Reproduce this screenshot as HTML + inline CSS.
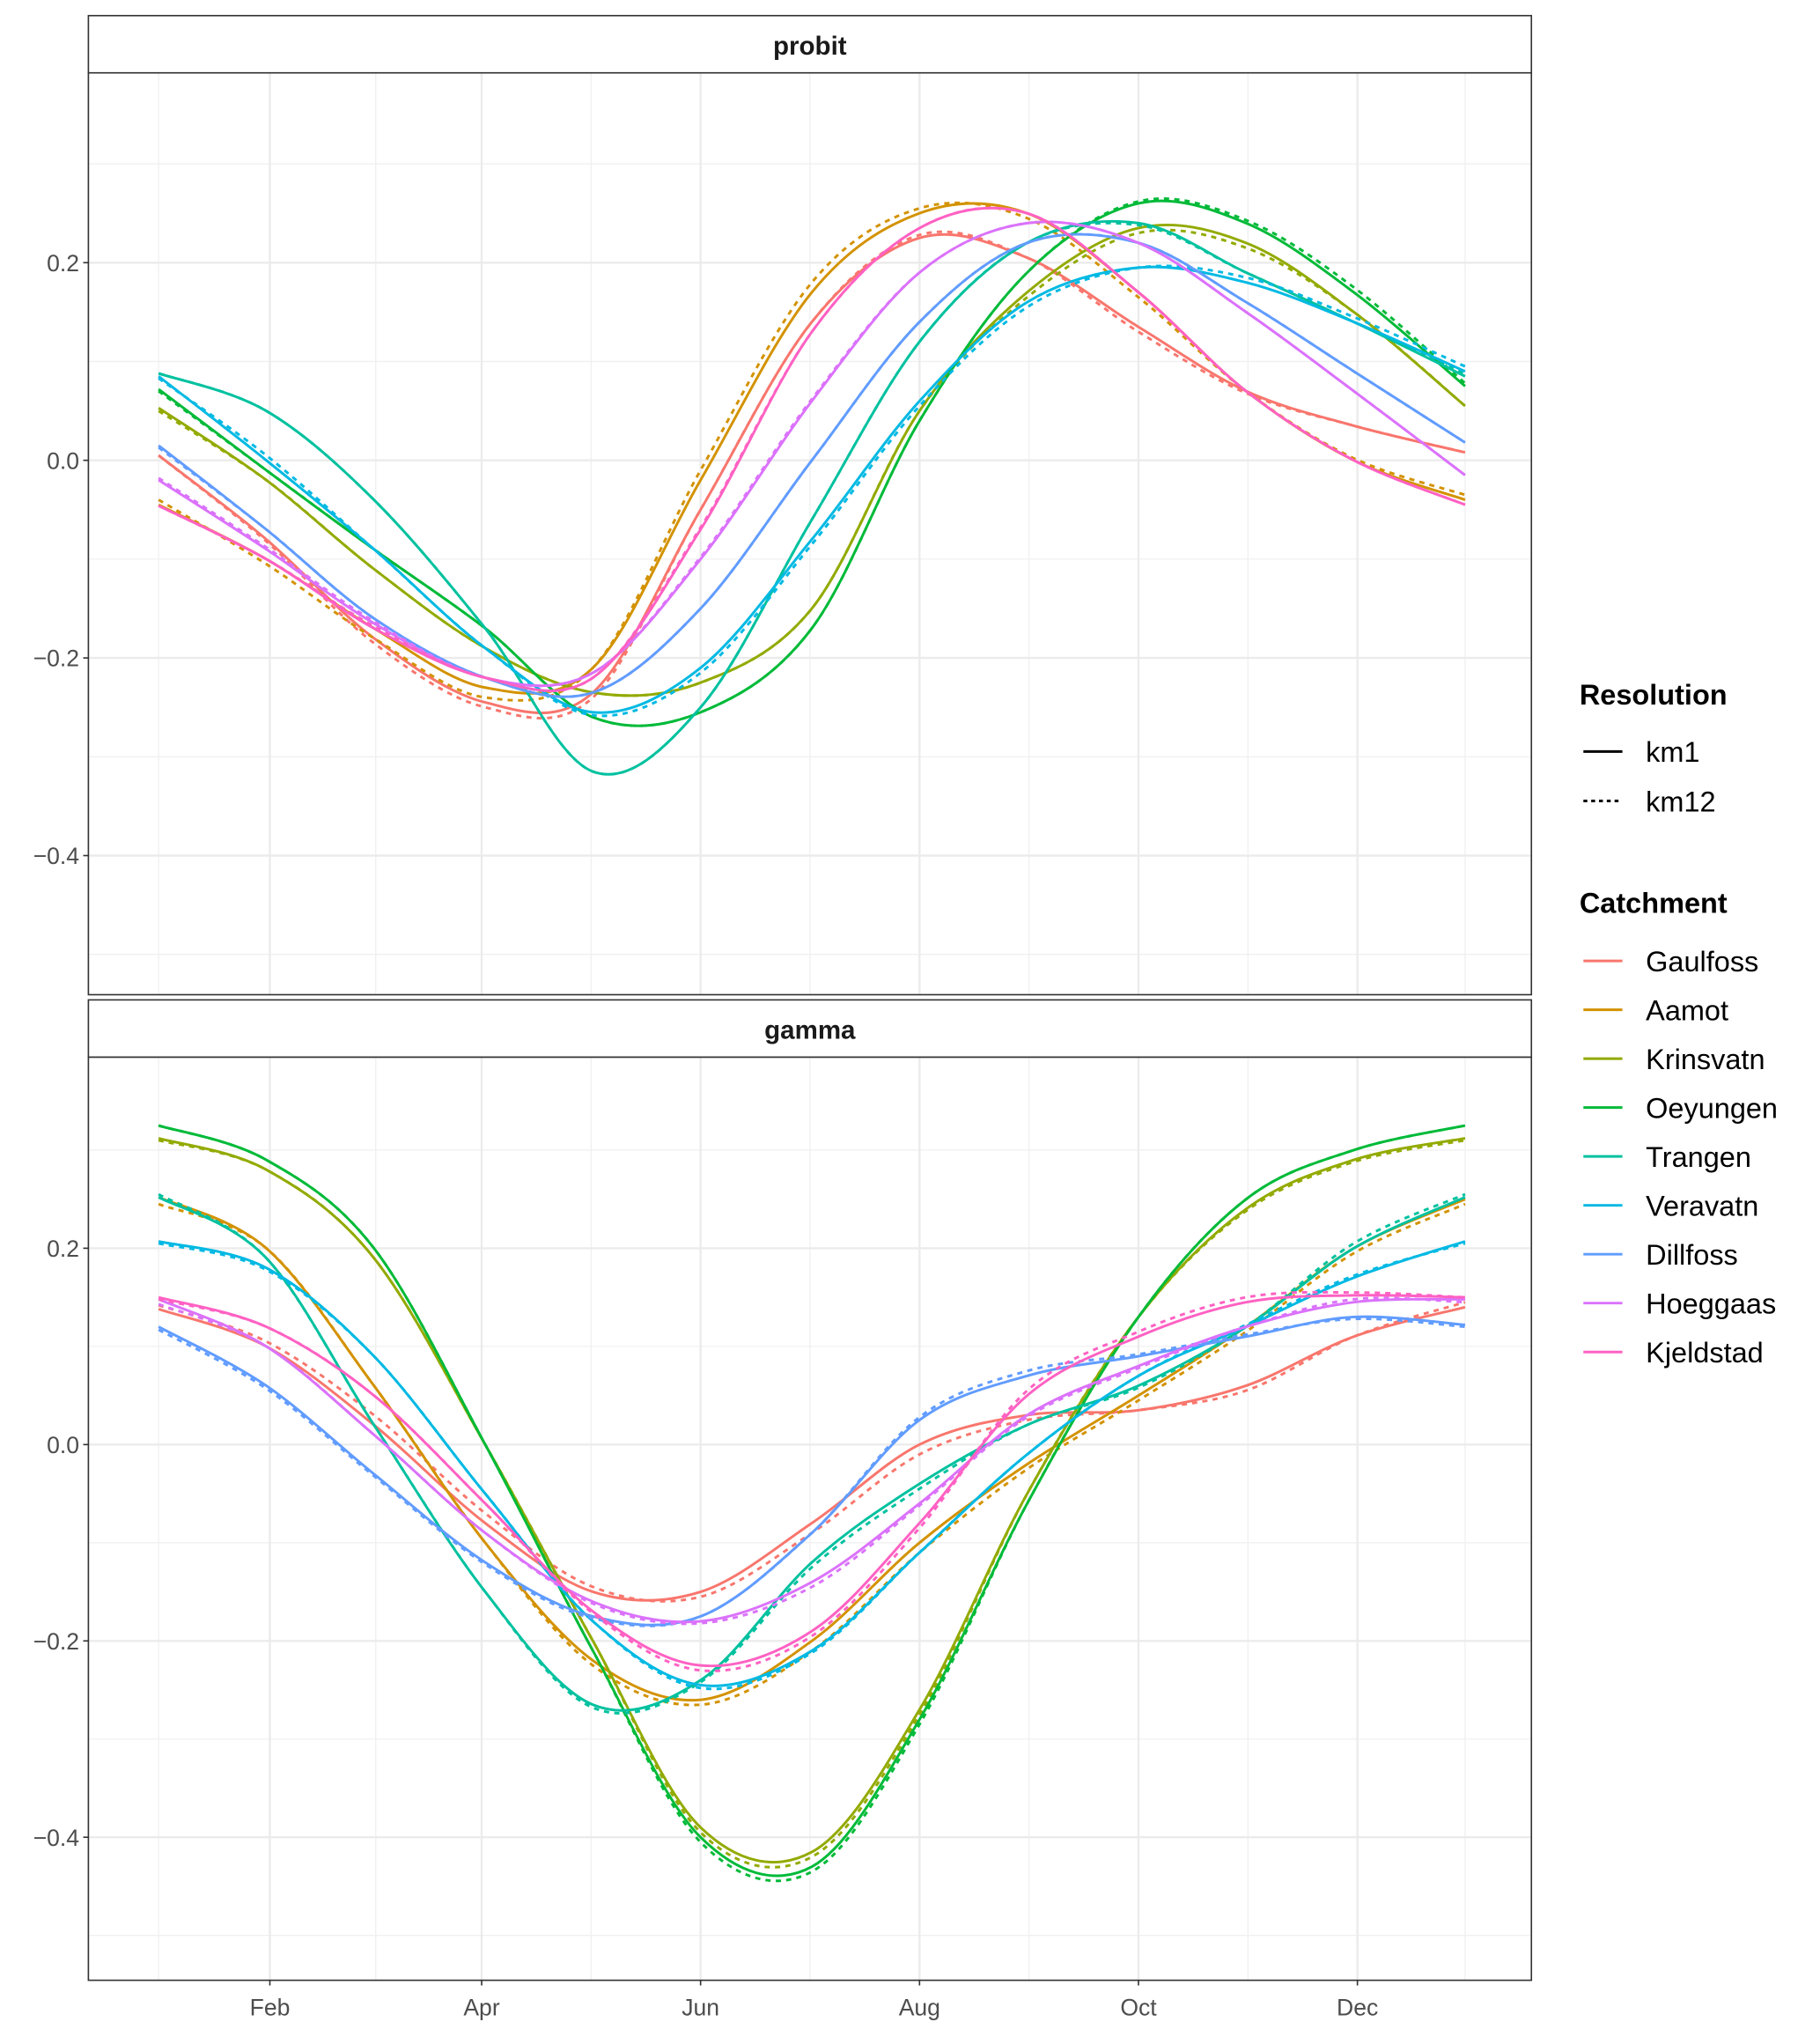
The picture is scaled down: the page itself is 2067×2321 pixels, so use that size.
<!DOCTYPE html>
<html><head><meta charset="utf-8"><style>
html,body{margin:0;padding:0;background:#fff;}
svg{display:block;font-family:"Liberation Sans",Arial,sans-serif;}
</style></head><body>
<svg id="chart" width="2067" height="2321" viewBox="0 0 1400 1572" xmlns="http://www.w3.org/2000/svg"></svg>
<script>
const days = [1,31,61,92,122,152,183,213,243,274,304,334,365];
const catchments = ["Gaulfoss","Aamot","Krinsvatn","Oeyungen","Trangen","Veravatn","Dillfoss","Hoeggaas","Kjeldstad"];
const colors = ["#F8766D","#D39200","#93AA00","#00BA38","#00C19F","#00B9E3","#619CFF","#DB72FB","#FF61C3"];
const monthLabels = ["Feb","Apr","Jun","Aug","Oct","Dec"];
const monthDays = [32,91,152,213,274,335];
const yTicks = [0.2,0.0,-0.2,-0.4];
const yTickLabels = ["0.2","0.0","\u22120.2","\u22120.4"];

const probitKm1 = [
 [0.005,-0.08,-0.18,-0.245,-0.235,-0.05,0.14,0.225,0.205,0.135,0.07,0.035,0.008],
 [-0.045,-0.10,-0.17,-0.23,-0.21,-0.02,0.17,0.25,0.25,0.17,0.07,0.0,-0.04],
 [0.053,-0.02,-0.11,-0.19,-0.235,-0.225,-0.15,0.05,0.17,0.235,0.22,0.15,0.055],
 [0.072,-0.01,-0.09,-0.17,-0.26,-0.255,-0.17,0.04,0.19,0.26,0.24,0.17,0.075],
 [0.088,0.05,-0.04,-0.17,-0.315,-0.25,-0.06,0.12,0.22,0.24,0.19,0.14,0.085],
 [0.085,0.0,-0.09,-0.19,-0.255,-0.21,-0.08,0.06,0.16,0.195,0.18,0.14,0.09],
 [0.015,-0.07,-0.16,-0.22,-0.235,-0.15,0.0,0.14,0.22,0.22,0.16,0.09,0.018],
 [-0.02,-0.09,-0.165,-0.22,-0.215,-0.10,0.06,0.19,0.24,0.22,0.15,0.07,-0.015],
 [-0.046,-0.10,-0.17,-0.22,-0.22,-0.07,0.13,0.235,0.25,0.17,0.07,0.0,-0.045]
];
const probitKm12 = [
 [0.005,-0.082,-0.185,-0.25,-0.24,-0.05,0.14,0.228,0.205,0.13,0.068,0.035,0.008],
 [-0.04,-0.105,-0.18,-0.24,-0.21,-0.01,0.18,0.255,0.245,0.165,0.07,0.002,-0.035],
 [0.05,-0.02,-0.11,-0.19,-0.235,-0.225,-0.15,0.05,0.165,0.23,0.215,0.15,0.055],
 [0.07,-0.01,-0.09,-0.17,-0.26,-0.255,-0.17,0.04,0.19,0.262,0.243,0.175,0.078],
 [0.088,0.05,-0.04,-0.17,-0.315,-0.25,-0.06,0.12,0.22,0.238,0.19,0.14,0.088],
 [0.083,0.005,-0.09,-0.19,-0.258,-0.215,-0.085,0.055,0.155,0.195,0.185,0.145,0.095],
 [0.013,-0.07,-0.16,-0.22,-0.235,-0.15,0.0,0.14,0.22,0.22,0.16,0.09,0.018],
 [-0.018,-0.088,-0.163,-0.22,-0.215,-0.098,0.062,0.19,0.24,0.22,0.15,0.07,-0.015],
 [-0.046,-0.10,-0.168,-0.22,-0.22,-0.068,0.13,0.235,0.25,0.17,0.07,0.0,-0.045]
];
const gammaKm1 = [
 [0.138,0.10,0.02,-0.08,-0.15,-0.15,-0.08,0.0,0.03,0.035,0.06,0.11,0.14],
 [0.252,0.20,0.06,-0.10,-0.22,-0.26,-0.20,-0.10,-0.02,0.05,0.12,0.20,0.25],
 [0.312,0.28,0.19,0.0,-0.20,-0.39,-0.415,-0.27,-0.05,0.13,0.24,0.29,0.312],
 [0.325,0.29,0.20,0.0,-0.21,-0.40,-0.43,-0.28,-0.06,0.13,0.25,0.30,0.325],
 [0.252,0.19,0.02,-0.15,-0.265,-0.24,-0.12,-0.04,0.02,0.06,0.12,0.20,0.252],
 [0.207,0.18,0.09,-0.05,-0.18,-0.245,-0.21,-0.11,-0.01,0.07,0.12,0.17,0.207],
 [0.12,0.06,-0.03,-0.12,-0.175,-0.175,-0.09,0.025,0.07,0.09,0.11,0.13,0.122],
 [0.148,0.10,0.01,-0.09,-0.16,-0.18,-0.14,-0.06,0.03,0.08,0.12,0.145,0.148],
 [0.15,0.12,0.05,-0.06,-0.17,-0.225,-0.19,-0.08,0.05,0.11,0.145,0.152,0.15]
];
const gammaKm12 = [
 [0.142,0.105,0.03,-0.07,-0.145,-0.155,-0.09,-0.01,0.025,0.035,0.055,0.11,0.145],
 [0.245,0.20,0.06,-0.10,-0.225,-0.265,-0.21,-0.11,-0.025,0.045,0.115,0.195,0.245],
 [0.31,0.28,0.19,0.0,-0.20,-0.395,-0.42,-0.275,-0.05,0.13,0.238,0.288,0.31],
 [0.325,0.29,0.20,0.0,-0.21,-0.405,-0.435,-0.285,-0.06,0.13,0.25,0.30,0.325],
 [0.255,0.19,0.02,-0.15,-0.268,-0.242,-0.125,-0.045,0.02,0.058,0.12,0.205,0.255],
 [0.205,0.178,0.09,-0.05,-0.18,-0.248,-0.212,-0.11,-0.01,0.07,0.122,0.172,0.205],
 [0.117,0.057,-0.032,-0.122,-0.177,-0.175,-0.09,0.028,0.075,0.092,0.112,0.128,0.12],
 [0.143,0.10,0.01,-0.09,-0.162,-0.182,-0.145,-0.062,0.028,0.078,0.12,0.148,0.145],
 [0.148,0.12,0.05,-0.06,-0.172,-0.23,-0.195,-0.085,0.055,0.115,0.15,0.155,0.15]
];

const NS="http://www.w3.org/2000/svg";
const svg=document.getElementById('chart');
function mk(tag,attrs,parent){const e=document.createElementNS(NS,tag);for(const k in attrs)e.setAttribute(k,attrs[k]);(parent||svg).appendChild(e);return e;}
const X0=68,X1=1178;
function xScale(d){return 122+(d-1)/364*1005;}
const panels=[
 {name:"probit",stripTop:12,top:56,bottom:765,zeroY:354,k:760,k1:probitKm1,k12:probitKm12},
 {name:"gamma",stripTop:769,top:813,bottom:1523,zeroY:1111,k:755,k1:gammaKm1,k12:gammaKm12}
];
function pathFor(vals,yS){
 const pts=days.map((d,i)=>[xScale(d),yS(vals[i])]);
 let s="M"+pts[0][0].toFixed(2)+","+pts[0][1].toFixed(2);
 for(let i=0;i<pts.length-1;i++){
  const p0=pts[Math.max(0,i-1)],p1=pts[i],p2=pts[i+1],p3=pts[Math.min(pts.length-1,i+2)];
  const c1=[p1[0]+(p2[0]-p0[0])/6,p1[1]+(p2[1]-p0[1])/6];
  const c2=[p2[0]-(p3[0]-p1[0])/6,p2[1]-(p3[1]-p1[1])/6];
  s+=" C"+c1[0].toFixed(2)+","+c1[1].toFixed(2)+" "+c2[0].toFixed(2)+","+c2[1].toFixed(2)+" "+p2[0].toFixed(2)+","+p2[1].toFixed(2);
 }
 return s;
}
panels.forEach(p=>{
 const yS=v=>p.zeroY-v*p.k;
 const g=mk('g',{});
 
 
 for(let v=-0.5;v<=0.31;v+=0.2){const y=yS(v);if(y>p.top&&y<p.bottom){const l=mk('line',{x1:X0,x2:X1,y1:y,y2:y,stroke:'#f0f0f0','stroke-width':0.9},g);}}
 for(let i=0;i<monthDays.length+1;i++){const a=i===0?1:monthDays[i-1],b=i<monthDays.length?monthDays[i]:365;const x=i===0?xScale(1):(i===monthDays.length?xScale(365):(xScale(a)+xScale(b))/2);const l=mk('line',{x1:x,x2:x,y1:p.top,y2:p.bottom,stroke:'#f0f0f0','stroke-width':0.9},g);}
 yTicks.forEach((v,i)=>{const y=yS(v);const l=mk('line',{x1:X0,x2:X1,y1:y,y2:y,stroke:'#ebebeb','stroke-width':1.6},g);
  mk('line',{x1:X0-4,x2:X0,y1:y,y2:y,stroke:'#333','stroke-width':1.1},g);
  const t=mk('text',{x:X0-7,y:y+6.5,'text-anchor':'end','font-size':18,fill:'#4d4d4d'},g);t.textContent=yTickLabels[i];});
 monthDays.forEach(d=>{const x=xScale(d);const l=mk('line',{x1:x,x2:x,y1:p.top,y2:p.bottom,stroke:'#ebebeb','stroke-width':1.6},g);});
 catchments.forEach((c,i)=>{
  const a=mk('path',{d:pathFor(p.k1[i],yS),fill:'none',stroke:colors[i],'stroke-width':2},g);
  
  
  const b=mk('path',{d:pathFor(p.k12[i],yS),fill:'none',stroke:colors[i],'stroke-width':2,'stroke-dasharray':'4 4'},g);
  
  
 });
 const br=mk('rect',{x:X0,y:p.top,width:X1-X0,height:p.bottom-p.top,fill:'none',stroke:'#333','stroke-width':1.1},g);
 
 const sr=mk('rect',{x:X0,y:p.stripTop,width:X1-X0,height:p.top-p.stripTop,fill:'#fff',stroke:'#333','stroke-width':1.1},g);
 
 const st=mk('text',{x:(X0+X1)/2,y:p.stripTop+30,'text-anchor':'middle','font-size':20,'font-weight':'bold',fill:'#1a1a1a'},g);
 st.textContent=p.name;
});
monthDays.forEach((d,i)=>{const x=xScale(d);mk('line',{x1:x,x2:x,y1:1523,y2:1527,stroke:'#333','stroke-width':1.1});
 const t=mk('text',{x:x,y:1550,'text-anchor':'middle','font-size':18,fill:'#4d4d4d'});t.textContent=monthLabels[i];
 });
const lg=mk('g',{});

let t=mk('text',{x:1215,y:542,'font-size':22,'font-weight':'bold',fill:'#000'},lg);t.textContent='Resolution';

[['km1',null,578],['km12','4 4',616]].forEach(r=>{const l=mk('line',{x1:1218,x2:1248,y1:r[2],y2:r[2],stroke:'#000','stroke-width':2},lg);if(r[1])l.setAttribute('stroke-dasharray','3 3');
 const tt=mk('text',{x:1266,y:r[2]+8,'font-size':22,fill:'#000'},lg);tt.textContent=r[0];});
t=mk('text',{x:1215,y:702,'font-size':22,'font-weight':'bold',fill:'#000'},lg);t.textContent='Catchment';

catchments.forEach((c,i)=>{const y=739+i*37.6;mk('line',{x1:1218,x2:1248,y1:y,y2:y,stroke:colors[i],'stroke-width':2},lg);
 const tt=mk('text',{x:1266,y:y+8,'font-size':22,fill:'#000'},lg);tt.textContent=c;
 });
</script>
</body></html>
